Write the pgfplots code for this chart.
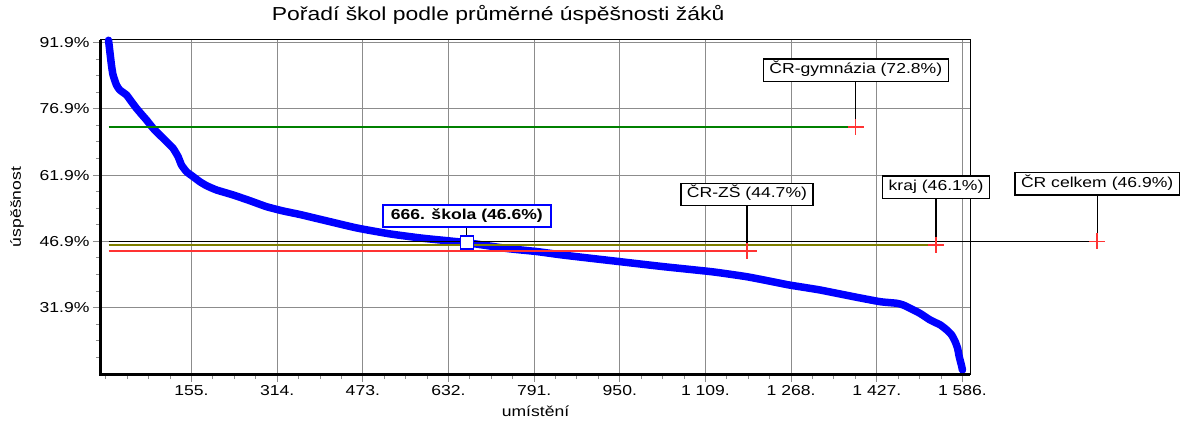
\documentclass[border=0pt]{standalone}
\usepackage{fontspec}
\setmainfont{Liberation Sans}[FakeStretch=1.22]
\usepackage{pgfplots}
\pgfplotsset{compat=1.18}
\newcommand\f{\fontsize{14.4bp}{17bp}\selectfont}
\definecolor{cblue}{RGB}{0,0,255}
\definecolor{cgreen}{RGB}{0,128,0}
\definecolor{cred}{RGB}{255,51,51}
\definecolor{colive}{RGB}{128,128,0}
\definecolor{cgrid}{RGB}{140,140,140}
\tikzset{lbox/.style={draw=black, line width=1.3bp, fill=white, font=\f, inner xsep=6bp, inner ysep=4bp, text height=10.8bp, text depth=3.4bp}}
\begin{document}
\begin{tikzpicture}
\begin{axis}[
  scale only axis, width=869bp, height=334bp,
  xmin=-13, xmax=1600, ymin=16.9, ymax=92.46,
  clip=false,
  axis line style={black, line width=1bp},
  xtick pos=bottom, ytick pos=left,
  xtick={155,314,473,632,791,950,1109,1268,1427,1586},
  xticklabels={155.,314.,473.,632.,791.,950.,1 109.,1 268.,1 427.,1 586.},
  minor xtick={-4,35.75,...,1600},
  ytick={31.9,46.9,61.9,76.9,91.9},
  yticklabels={31.9\%,46.9\%,61.9\%,76.9\%,91.9\%},
  minor ytick={20.65,24.4,...,92},
  tick align=outside,
  major tick length=8bp, minor tick length=5bp,
  tick style={color=cgrid, line width=1bp},
  xmajorgrids, ymajorgrids,
  grid style={color=cgrid, line width=1bp},
  tick label style={font=\f, text=black},
  title={Pořadí škol podle průměrné úspěšnosti žáků},
  title style={font=\fontsize{18.8bp}{22bp}\selectfont, at={(axis description cs:0.457,1)}, anchor=base, yshift=13.5bp},
  xlabel={umístění},
  xlabel style={font=\f, at={(axis description cs:0.5,-0.111)}, anchor=center},
  ylabel={úspěšnost},
  ylabel style={font=\f, at={(axis description cs:-0.0967,0.5)}, anchor=center},
]
% school ranking curve
\addplot[cblue, line width=7.5bp, line join=round, line cap=round, smooth, tension=0.3] coordinates {
(1,92.4) (6.4,86.8) (9.4,84.55) (15.7,82.28) (21.9,81.15) (34.3,80.02) (43.6,78.5) (52.9,77.0)
(62.2,75.66) (71.4,74.37) (83.7,72.49) (96.1,70.97) (108.6,69.46) (120.8,67.96) (130.1,66.06)
(136.4,64.18) (145.7,62.67) (158,61.54) (170.4,60.41) (182.9,59.5) (201.4,58.53) (232.3,57.4)
(263.3,56.11) (294.3,54.75) (325.1,53.78) (356,52.99) (399,51.74) (462,49.93) (523,48.6) (585,47.6)
(666,46.6) (740,45.3) (796,44.6) (845,43.8) (937,42.5) (1030,41.2) (1123,40.0) (1186,38.9)
(1241,37.6) (1266,37.0) (1322,35.9) (1384,34.39) (1433,33.26) (1464,32.9) (1476,32.51) (1489,31.76)
(1507,30.63) (1526,29.12) (1545,27.99) (1557,26.85) (1566,25.72) (1572.5,24.21) (1577,22.71)
(1580,20.81) (1584,18.93) (1586,17.8)
};
% reference lines
\addplot[cgreen, line width=1.4bp] coordinates {(1,72.8) (1384,72.8)};
\addplot[cred, line width=1.4bp] coordinates {(1,44.7) (1204,44.7)};
\addplot[colive, line width=1.4bp] coordinates {(1,46.1) (1525,46.1)};
\addplot[black, line width=1.4bp] coordinates {(1,46.9) (1850,46.9)};
% connectors
\draw[black, line width=1.3bp] (axis cs:1388,72.8) -- (axis cs:1388,83.0);
\draw[black, line width=1.3bp] (axis cs:1186,44.7) -- (axis cs:1186,54.9);
\draw[black, line width=1.3bp] (axis cs:1537,46.1) -- (axis cs:1537,56.5);
\draw[black, line width=1.3bp] (axis cs:1836,46.9) -- (axis cs:1836,57.24);
\draw[black, line width=1.3bp] (axis cs:666,46.6) -- (axis cs:666,49.93);
% markers
\addplot[cred, only marks, mark=+, mark size=8bp, line width=1.3bp] coordinates {(1388,72.8) (1186,44.7) (1537,46.1)};
\addplot[only marks, mark=square*, mark size=6.5bp, mark options={draw=cblue, fill=white, line width=1.5bp}] coordinates {(666,46.6)};
% labels
\node[lbox, anchor=south] at (axis cs:1388,83.0) {ČR-gymnázia (72.8\%)};
\node[lbox, anchor=south] at (axis cs:1186,54.9) {ČR-ZŠ (44.7\%)};
\node[lbox, anchor=south] at (axis cs:1537,56.5) {kraj (46.1\%)};
\node[lbox, anchor=south] at (axis cs:1836,57.24) {ČR celkem (46.9\%)};
\node[lbox, draw=cblue, line width=1.5bp, inner xsep=8bp, font=\f\bfseries, anchor=south] at (axis cs:666,49.93) {666. škola (46.6\%)};
% heavier left and bottom axis lines
\draw[black, line width=3bp] (rel axis cs:0,1) -- (rel axis cs:0,0) -- (rel axis cs:1,0);
\path (rel axis cs:0,0) ++(-101bp,-55bp) rectangle ++(1181bp,429bp);
\end{axis}
% overlay axis with the same scale, wide enough for the "CR celkem" marker
\begin{axis}[
  scale only axis, width=1023.6bp, height=334bp,
  xmin=-13, xmax=1887, ymin=16.9, ymax=92.46,
  hide axis, clip=false,
]
\addplot[cred, only marks, mark=+, mark size=8bp, line width=1.3bp] coordinates {(1836,46.9)};
\end{axis}
\end{tikzpicture}
\end{document}
